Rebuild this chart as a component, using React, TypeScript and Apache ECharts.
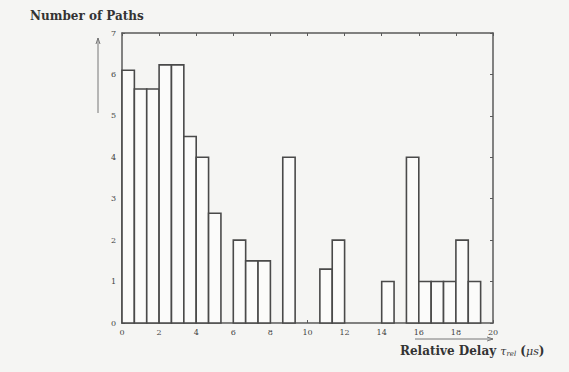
import React, { useEffect, useRef } from "react";
import * as echarts from "echarts";

// Histogram: bins of width 2/3 µs from 0 to 20 µs
const binWidth = 2 / 3;
const pathCounts = [
  6.1, 5.65, 5.65, 6.23, 6.23, 4.5, 4.0, 2.65, 0, 2.0,
  1.5, 1.5, 0, 4.0, 0, 0, 1.3, 2.0, 0, 0,
  0, 1.0, 0, 4.0, 1.0, 1.0, 1.0, 2.0, 1.0, 0,
];
const xTicks = [0, 2, 4, 6, 8, 10, 12, 14, 16, 18, 20];
const yTicks = [0, 1, 2, 3, 4, 5, 6, 7];

export default function App() {
  const ref = useRef<HTMLDivElement>(null);
  useEffect(() => {
    if (!ref.current) return;
    const chart = echarts.init(ref.current, null, { renderer: "svg" });
    const data = pathCounts
      .map((h, i) => [i * binWidth, (i + 1) * binWidth, h])
      .filter((d) => d[2] > 0);
    const lineColor = "#5a5a5a";
    const labelStyle = { color: "#444", fontSize: 8, fontFamily: "DejaVu Serif" };
    const axisCommon = {
      axisLine: { show: true, onZero: false, lineStyle: { color: lineColor, width: 1.5 } },
      axisTick: { show: true, inside: true, length: 3, lineStyle: { color: lineColor } },
      splitLine: { show: false },
    };
    chart.setOption({
      animation: false,
      backgroundColor: "#f5f5f3",
      grid: { left: 122, right: 76, top: 33, bottom: 49, containLabel: false },
      xAxis: [
        {
          type: "value",
          min: xTicks[0],
          max: xTicks[xTicks.length - 1],
          interval: 2,
          position: "bottom",
          ...axisCommon,
          axisLabel: { ...labelStyle, margin: 5 },
        },
        {
          type: "value",
          min: xTicks[0],
          max: xTicks[xTicks.length - 1],
          interval: 2,
          position: "top",
          ...axisCommon,
          axisLabel: { show: false },
        },
      ],
      yAxis: [
        {
          type: "value",
          min: yTicks[0],
          max: yTicks[yTicks.length - 1],
          interval: 1,
          position: "left",
          ...axisCommon,
          axisLabel: { ...labelStyle, margin: 6 },
        },
        {
          type: "value",
          min: yTicks[0],
          max: yTicks[yTicks.length - 1],
          interval: 1,
          position: "right",
          ...axisCommon,
          axisLabel: { show: false },
        },
      ],
      series: [
        {
          type: "custom",
          xAxisIndex: 0,
          yAxisIndex: 0,
          data,
          renderItem: (params: any, api: any) => {
            const p0 = api.coord([api.value(0), api.value(2)]);
            const p1 = api.coord([api.value(1), 0]);
            return {
              type: "rect",
              shape: { x: p0[0], y: p0[1], width: p1[0] - p0[0], height: p1[1] - p0[1] },
              style: { fill: "#fbfbfa", stroke: "#4a4a4a", lineWidth: 1.6 },
            };
          },
        },
      ],
      graphic: [
        {
          type: "text",
          left: 30,
          top: 10,
          style: {
            text: "Number of Paths",
            fontFamily: "DejaVu Serif",
            fontSize: 12,
            fontWeight: "bold",
            fill: "#333",
          },
        },
        {
          type: "line",
          shape: { x1: 98, y1: 38, x2: 98, y2: 113 },
          style: { stroke: "#777", lineWidth: 1 },
        },
        {
          type: "polyline",
          shape: { points: [[96, 44], [98, 38], [100, 44]] },
          style: { stroke: "#777", lineWidth: 1, fill: "none" },
        },
        {
          type: "line",
          shape: { x1: 415, y1: 339, x2: 493, y2: 339 },
          style: { stroke: "#777", lineWidth: 1 },
        },
        {
          type: "polyline",
          shape: { points: [[487, 337], [493, 339], [487, 341]] },
          style: { stroke: "#777", lineWidth: 1, fill: "none" },
        },
        {
          type: "text",
          left: 400,
          top: 345,
          style: {
            rich: {
              a: { fontFamily: "DejaVu Serif", fontSize: 12, fill: "#333", fontWeight: "bold" },
              t: { fontFamily: "DejaVu Serif", fontSize: 11, fill: "#333", fontStyle: "italic" },
              s: { fontFamily: "DejaVu Serif", fontSize: 7, fill: "#333", fontStyle: "italic", padding: [6, 0, 0, 0] },
            },
            text: "{a|Relative Delay }{t|τ}{s|rel}{a| (}{t|μs}{a|)}",
          },
        },
      ],
    });
    return () => chart.dispose();
  }, []);
  return (
    <div
      ref={ref}
      style={{ position: "fixed", left: 0, top: 0, width: 569, height: 372 }}
    />
  );
}
